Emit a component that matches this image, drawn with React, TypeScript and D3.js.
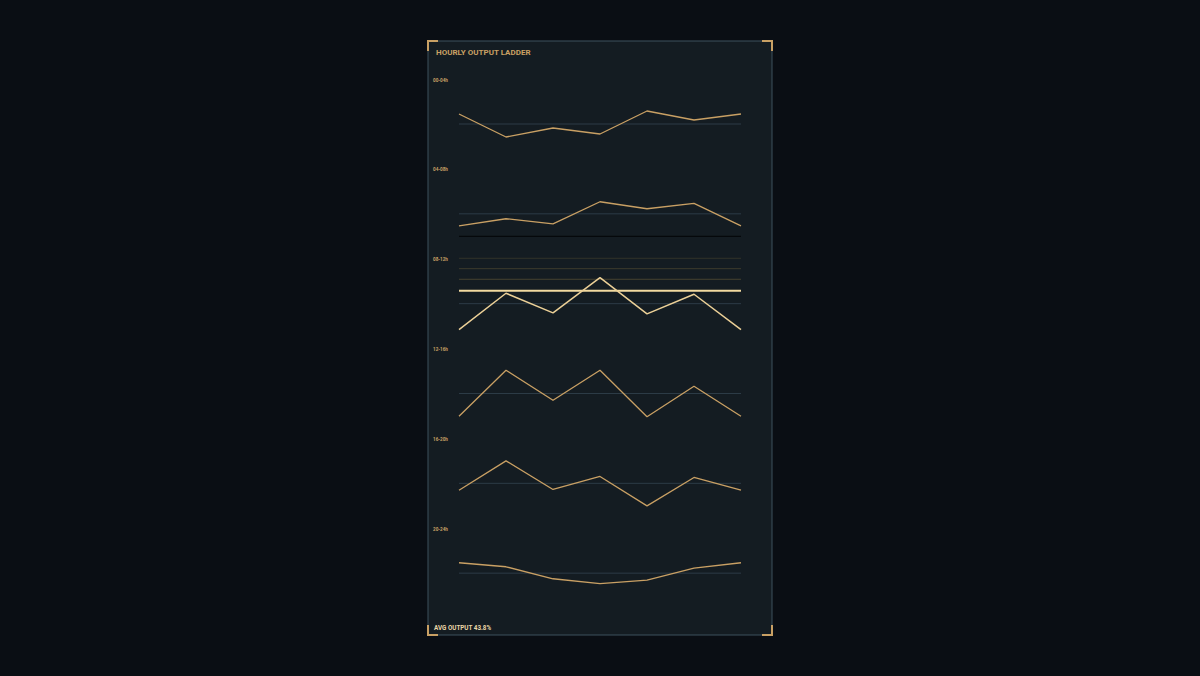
import React from "react";
import * as d3 from "d3";

const TITLE = "HOURLY OUTPUT LADDER";
const FOOTER = "AVG OUTPUT 43.8%";
const BANDS = ["00-04h", "04-08h", "08-12h", "12-16h", "16-20h", "20-24h"];
const STEPS = ["+0", "+40m", "+80m", "+120m", "+160m", "+200m", "+240m"];

const OUT_00_04 = [35, 23.5, 28, 25, 36.5, 32, 35];
const OUT_04_08 = [29.9, 33.5, 30.9, 42, 38.5, 41.2, 29.9];
const OUT_08_12 = [42, 60.2, 50.4, 68, 49.9, 59.7, 42];
const OUT_12_16 = [48.5, 71.5, 56.5, 71.5, 48.3, 63.5, 48.5];
const OUT_16_20 = [46.5, 61.2, 46.9, 53.4, 38.7, 52.9, 46.5];
const OUT_20_24 = [38.4, 36.4, 30.4, 28, 29.7, 35.7, 38.4];
const SERIES = [OUT_00_04, OUT_04_08, OUT_08_12, OUT_12_16, OUT_16_20, OUT_20_24];

const ACTIVE_BAND = 2;
const THRESHOLD = 61.5;
const THRESHOLD_TRAIL = [77.7, 72.5, 67.2];
const SHADOW_BAND = 1;
const SHADOW_VALUE = 24.7;

const HALF_SPAN = 13;

const W = 1200;
const H = 676;
const FRAME = { x: 428, y: 41, w: 344, h: 594 };
const GOLD = "#c9a064";
const CREAM = "#f2daa0";

export default function App() {
  const x = d3.scalePoint<string>().domain(STEPS).range([459, 741]);
  const band = d3.scaleBand<string>().domain(BANDS).range([76, 615]);
  const line = d3.line<number>().x((_, i) => x(STEPS[i]) as number);

  const cl = 10;
  const corners = [
    `M${FRAME.x},${FRAME.y + cl}V${FRAME.y}H${FRAME.x + cl}`,
    `M${FRAME.x + FRAME.w - cl},${FRAME.y}H${FRAME.x + FRAME.w}V${FRAME.y + cl}`,
    `M${FRAME.x},${FRAME.y + FRAME.h - cl}V${FRAME.y + FRAME.h}H${FRAME.x + cl}`,
    `M${FRAME.x + FRAME.w - cl},${FRAME.y + FRAME.h}H${FRAME.x + FRAME.w}V${FRAME.y + FRAME.h - cl}`,
  ];

  return (
    <div style={{ position: "fixed", left: 0, top: 0, width: W, height: H, background: "#0a0e14" }}>
      <svg width={W} height={H} style={{ display: "block", fontFamily: "Roboto, 'DejaVu Sans', sans-serif" }}>
        <rect width={W} height={H} fill="#0a0e14" />
        <rect x={FRAME.x} y={FRAME.y} width={FRAME.w} height={FRAME.h} fill="#141c22" stroke="#3d505d" strokeWidth={1} />
        {corners.map((d, i) => (
          <path key={i} d={d} fill="none" stroke={GOLD} strokeWidth={2} />
        ))}
        <text x={436} y={54.5} fill={GOLD} fontSize={8} fontWeight="bold">{TITLE}</text>
        {BANDS.map((b, bi) => {
          const top = band(b) as number;
          const vals = SERIES[bi];
          const lo = d3.min(vals) as number;
          const hi = d3.max(vals) as number;
          const c = (lo + hi) / 2;
          const y = d3.scaleLinear().domain([c - HALF_SPAN, c + HALF_SPAN]).range([top + 74, top + 22]);
          const active = bi === ACTIVE_BAND;
          const gen = line.y((v) => y(v)).curve(d3.curveLinear);
          return (
            <g key={b}>
              <text x={433} y={top + 5.5} fill={GOLD} fontSize={4.6} fontWeight="bold">{b}</text>
              {active &&
                THRESHOLD_TRAIL.map((t, k) => (
                  <line key={k} x1={459} x2={741} y1={y(t)} y2={y(t)} stroke="#4a4630" strokeOpacity={0.55 + k * 0.2} strokeWidth={1} />
                ))}
              <line x1={459} x2={741} y1={y(c)} y2={y(c)} stroke="#2c3b46" strokeWidth={1} />
              {bi === SHADOW_BAND && (
                <line x1={459} x2={741} y1={y(SHADOW_VALUE)} y2={y(SHADOW_VALUE)} stroke="#05080b" strokeWidth={1.2} />
              )}
              {active && (
                <line x1={459} x2={741} y1={y(THRESHOLD)} y2={y(THRESHOLD)} stroke={CREAM} strokeWidth={2} />
              )}
              <path d={gen(vals) as string} fill="none" stroke={active ? "#ecd097" : GOLD} strokeWidth={active ? 1.5 : 1.3} strokeLinejoin="round" />
            </g>
          );
        })}
        <text x={434} y={629.5} fill="#ead7a8" fontSize={6.3} fontWeight="bold">{FOOTER}</text>
      </svg>
    </div>
  );
}
